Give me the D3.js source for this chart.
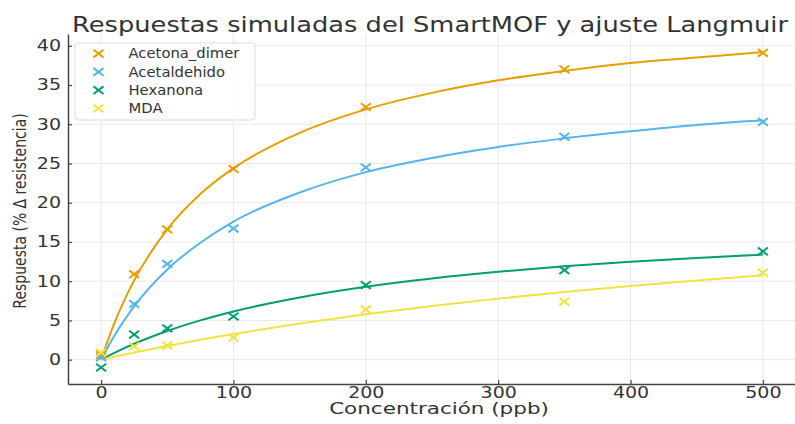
<!DOCTYPE html>
<html><head><meta charset="utf-8">
<script src="https://cdn.jsdelivr.net/npm/d3@7"></script>
<style>body{margin:0;background:#fff;} svg{display:block;font-family:"DejaVu Sans",sans-serif;}</style>
</head><body><svg id="c" width="795" height="424"></svg>
<script>
const title = "Respuestas simuladas del SmartMOF y ajuste Langmuir";
const xLabel = "Concentración (ppb)";
const yLabel = "Respuesta (% Δ resistencia)";
const seriesNames = ["Acetona_dimer", "Acetaldehido", "Hexanona", "MDA"];
const seriesColors = ["#E69F00", "#56B4E9", "#009E73", "#F0E442"];
const concentrations = [0, 25, 50, 100, 200, 350, 500];
const acetonaPts = [0.6, 10.9, 16.6, 24.3, 32.2, 37.0, 39.1];
const acetaldehidoPts = [0.3, 7.1, 12.2, 16.7, 24.5, 28.4, 30.3];
const hexanonaPts = [-1.0, 3.2, 4.0, 5.5, 9.5, 11.4, 13.8];
const mdaPts = [0.9, 1.7, 1.8, 2.8, 6.4, 7.4, 11.1];
const fitX = [0, 10, 25, 50, 75, 100, 150, 200, 250, 300, 350, 400, 450, 500];
const acetonaFit = [0, 4.65, 10.1, 16.6, 21.1, 24.4, 28.9, 31.9, 34.0, 35.6, 36.8, 37.8, 38.5, 39.2];
const acetaldehidoFit = [0, 3.05, 6.8, 11.5, 14.9, 17.6, 21.3, 23.9, 25.7, 27.1, 28.2, 29.1, 29.9, 30.5];
const hexanonaFit = [0, 0.87, 2.03, 3.66, 5.01, 6.15, 7.93, 9.29, 10.34, 11.19, 11.9, 12.47, 12.97, 13.4];
const mdaFit = [0, 0.37, 0.91, 1.75, 2.54, 3.27, 4.61, 5.79, 6.84, 7.78, 8.63, 9.40, 10.10, 10.74];
const xTicks = [0, 100, 200, 300, 400, 500];
const yTicks = [0, 5, 10, 15, 20, 25, 30, 35, 40];

const pts = [acetonaPts, acetaldehidoPts, hexanonaPts, mdaPts];
const fits = [acetonaFit, acetaldehidoFit, hexanonaFit, mdaFit];

const svg = d3.select("#c");
const L = 68, R = 796, T = 34, B = 384;
const x = d3.scaleLinear().domain([-25, 525]).range([L, R]);
const y = d3.scaleLinear().domain([-3.1, 41.5]).range([B, T]);
const TX = 1.27; // horizontal stretch of glyphs in the reference

// grid
const g = svg.append("g");
g.selectAll(".gx").data(xTicks).join("line")
  .attr("x1", d => x(d)).attr("x2", d => x(d)).attr("y1", T).attr("y2", B)
  .attr("stroke", "#e8e8e8").attr("stroke-width", 1);
g.selectAll(".gy").data(yTicks).join("line")
  .attr("y1", d => y(d)).attr("y2", d => y(d)).attr("x1", L).attr("x2", R)
  .attr("stroke", "#e8e8e8").attr("stroke-width", 1);

// axes (inward ticks)
const xAxis = svg.append("g").attr("transform", `translate(0,${B})`)
  .call(d3.axisBottom(x).tickValues(xTicks).tickSize(-4).tickPadding(3).tickSizeOuter(0));
const yAxis = svg.append("g").attr("transform", `translate(${L},0)`)
  .call(d3.axisLeft(y).tickValues(yTicks).tickSize(-4).tickPadding(7).tickSizeOuter(0));
[xAxis, yAxis].forEach(a => {
  a.select(".domain").attr("stroke", "#444").attr("stroke-width", 1.5);
  a.selectAll(".tick line").attr("stroke", "#444").attr("stroke-width", 1.2);
  a.selectAll("text").attr("font-family", "DejaVu Sans").attr("font-size", 15).attr("fill", "#333")
    .each(function() {
      const t = d3.select(this);
      const tx = +t.attr("x") || 0;
      t.attr("x", 0).attr("transform", `translate(${tx},0) scale(${TX},1)`);
    });
});

// fits
const line = d3.line().x(d => x(d[0])).y(d => y(d[1])).curve(d3.curveMonotoneX);
fits.forEach((f, i) => {
  svg.append("path").datum(fitX.map((c, j) => [c, f[j]]))
    .attr("d", line).attr("fill", "none").attr("stroke", seriesColors[i]).attr("stroke-width", 2);
});

// markers (x shape, wider than tall like the reference)
function xMark(sel, sx, sy) {
  sel.append("path").attr("d", `M${-sx},${-sy}L${sx},${sy}M${-sx},${sy}L${sx},${-sy}`);
}
pts.forEach((p, i) => {
  const gg = svg.append("g").attr("stroke", seriesColors[i]).attr("stroke-width", 2).attr("fill", "none");
  concentrations.forEach((c, j) => {
    const m = gg.append("g").attr("transform", `translate(${x(c)},${y(p[j])})`);
    xMark(m, 5, 3.8);
  });
});

function fitText(sel, target) {
  const w = sel.node().getComputedTextLength();
  return target / w;
}

// legend
const lg = svg.append("g");
lg.append("rect").attr("x", 75).attr("y", 43).attr("width", 180).attr("height", 77).attr("rx", 3)
  .attr("fill", "rgba(255,255,255,0.85)").attr("stroke", "#ddd");
seriesNames.forEach((n, i) => {
  const yy = 58.3 + i * 18.3;
  const m = lg.append("g").attr("transform", `translate(98.5,${yy - 4.7})`)
    .attr("stroke", seriesColors[i]).attr("stroke-width", 2);
  xMark(m, 5, 3.8);
  lg.append("text").attr("x", 0).attr("y", 0)
    .attr("transform", `translate(128.5,${yy}) scale(1.08,1)`)
    .attr("font-size", 13.7).attr("fill", "#333").text(n);
});

// title
const tt = svg.append("text").attr("font-size", 20.5).attr("fill", "#333").attr("text-anchor", "middle").text(title);
tt.attr("transform", `translate(430,31.7) scale(${fitText(tt, 716)},1)`);
// x label
const xl = svg.append("text").attr("font-size", 15.5).attr("fill", "#333").attr("text-anchor", "middle").text(xLabel);
xl.attr("transform", `translate(439,414) scale(${fitText(xl, 220)},1)`);
// y label
const yl = svg.append("text").attr("font-size", 14).attr("fill", "#333").attr("text-anchor", "middle").text(yLabel);
yl.attr("transform", `translate(26,211) rotate(-90) scale(1,1.25)`);
</script></body></html>
